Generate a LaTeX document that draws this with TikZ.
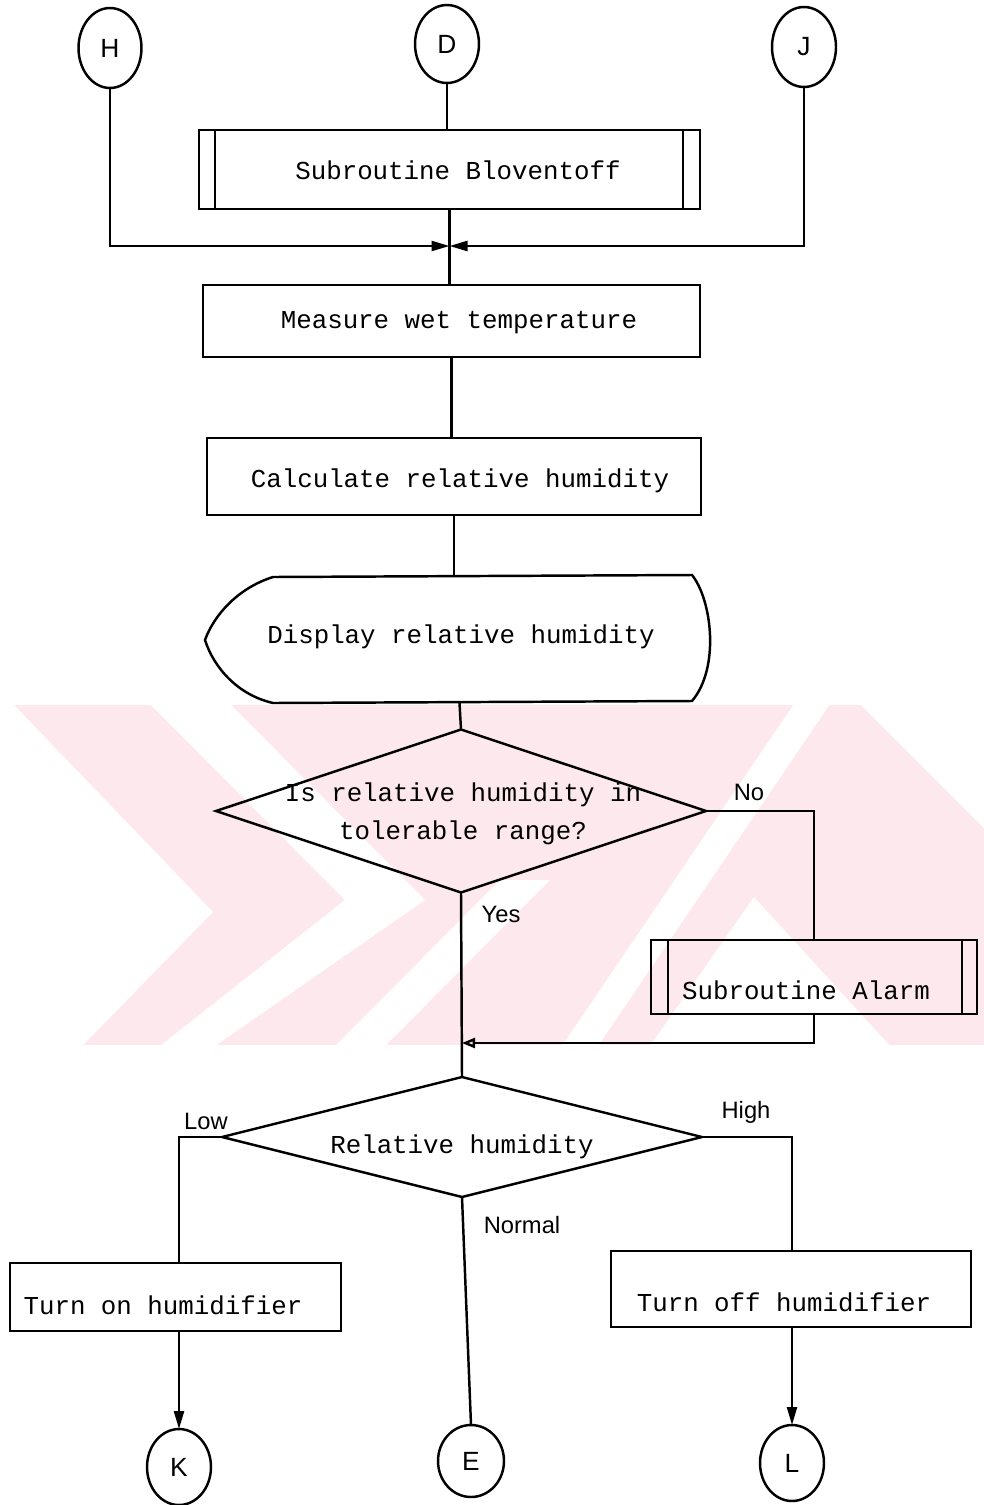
\documentclass[tikz,border=0pt]{standalone}
\usepackage{fontspec}
\setmainfont{Liberation Sans}
\newfontfamily\dotmono{Liberation Mono}
\usetikzlibrary{shapes.geometric,arrows.meta,calc}

\definecolor{wmpink}{RGB}{253,233,237}

\begin{document}
\begin{tikzpicture}[x=0.02cm,y=-0.02cm,
  line width=1.4pt,
  every node/.style={inner sep=0pt, outer sep=0pt},
  conn/.style={ellipse, draw, font=\fontsize{15}{15}\selectfont},
  procbox/.style={rectangle, draw},
  boxtext/.style={font=\dotmono\fontsize{14.7}{21.5}\selectfont, align=center},
  lbl/.style={font=\fontsize{13.5}{14}\selectfont},
  arr/.style={-{Triangle[length=0.36cm,width=0.2cm]}},
  openarr/.style={-{Triangle[open,length=0.26cm,width=0.2cm]}},
]
\useasboundingbox (0,0) rectangle (984,1505);

% faint background stamp: pink band with white stripes cut into it
\fill[wmpink] (13,705) rectangle (984,1045);
\begin{scope}[white]
  \fill (0,704) -- (13,704) -- (213,912) -- (82,1046) -- (0,1046) -- cycle;
  \fill (150,704) -- (230,704) -- (425,900) -- (215,1046) -- (160,1046) -- (345,900) -- cycle;
  \fill (335,1046) -- (385,1046) -- (550,880) -- (500,880) -- cycle;
  \fill (562,1046) -- (598,1046) -- (830,704) -- (794,704) -- cycle;
  \fill (860,704) -- (985,704) -- (985,829) -- cycle;
  \fill (754,897) -- (890,1046) -- (650,1046) -- cycle;
\end{scope}

% entry connectors
\node[conn, minimum width=1.26cm, minimum height=1.6cm] (H) at (110,48) {H};
\node[conn, minimum width=1.28cm, minimum height=1.56cm] (D) at (447,44) {D};
\node[conn, minimum width=1.28cm, minimum height=1.6cm] (J) at (804,47) {J};

% subroutine Bloventoff
\node[procbox, minimum width=10.02cm, minimum height=1.58cm] (blov) at (449.5,169.5) {};
\draw ([xshift=0.32cm]blov.north west) -- ([xshift=0.32cm]blov.south west);
\draw ([xshift=-0.34cm]blov.north east) -- ([xshift=-0.34cm]blov.south east);
\node[boxtext] (blovtext) at (458,170) {Subroutine Bloventoff};

\coordinate (jn) at (449.5,246);

% processing steps
\node[procbox, minimum width=9.94cm, minimum height=1.44cm] (meas) at (451.5,321) {};
\node[boxtext] (meastext) at (459,323) {Measure wet temperature};

\node[procbox, minimum width=9.88cm, minimum height=1.54cm] (calc) at (454,476.5) {};
\node[boxtext] (calctext) at (460,481) {Calculate relative humidity};

% display symbol
\node[minimum width=10.18cm, minimum height=2.56cm] (disp) at (459.5,639) {};
\draw (273,577) -- (692,575)
  .. controls (712,600) and (720,668) .. (692,701)
  -- (273,703)
  .. controls (238,695) and (214,668) .. (205,640)
  .. controls (214,615) and (238,588) .. (273,577) -- cycle;
\node[boxtext] (disptext) at (461,637) {Display relative humidity};

% tolerance decision
\node[draw, diamond, minimum width=9.8cm, minimum height=3.26cm] (dec1) at (461,811) {};
\node[boxtext] (dec1text) at (463,814) {Is relative humidity in\\tolerable range?};

% alarm subroutine
\node[procbox, minimum width=6.52cm, minimum height=1.48cm] (alarm) at (814,977) {};
\draw ([xshift=0.34cm]alarm.north west) -- ([xshift=0.34cm]alarm.south west);
\draw ([xshift=-0.3cm]alarm.north east) -- ([xshift=-0.3cm]alarm.south east);
\node[boxtext] (alarmtext) at (806,990) {Subroutine Alarm};

\coordinate (mg) at (462,1043);

% humidity level decision
\node[draw, diamond, minimum width=9.6cm, minimum height=2.4cm] (dec2) at (462,1137) {};
\node[boxtext] (dec2text) at (462,1147) {Relative humidity};

% actions
\node[procbox, minimum width=6.62cm, minimum height=1.36cm] (ton) at (175.5,1297) {};
\node[boxtext] (tontext) at (163,1305) {Turn on humidifier};
\node[procbox, minimum width=7.2cm, minimum height=1.52cm] (toff) at (791,1289) {};
\node[boxtext] (tofftext) at (784,1302) {Turn off humidifier};

% exit connectors
\node[conn, minimum width=1.28cm, minimum height=1.52cm] (K) at (179,1467) {K};
\node[conn, minimum width=1.32cm, minimum height=1.44cm] (E) at (471,1461) {E};
\node[conn, minimum width=1.28cm, minimum height=1.52cm] (L) at (792,1463) {L};

% flow lines
\draw (D.south) -- (D.south |- blov.north);
\draw (blov.south) -- (blov.south |- meas.north);
\draw[arr] (H.south) |- (jn);
\draw[arr] (J.south) |- (jn);
\draw (meas.south) -- (meas.south |- calc.north);
\draw (calc.south) -- (calc.south |- disp.north);
\draw (disp.south) -- (dec1.north);
\draw (dec1.east) -| (alarm.north);
\draw[openarr] (alarm.south) |- (mg);
\draw (dec1.south) -- (dec2.north);
\draw (dec2.west) -| (K.north |- ton.north);
\draw (dec2.east) -| (L.north |- toff.north);
\draw (dec2.south) -- (E.north);
\draw[arr] (K.north |- ton.south) -- (K.north);
\draw[arr] (L.north |- toff.south) -- (L.north);

% branch labels
\node[lbl] (lno) at (749,792) {No};
\node[lbl] (lyes) at (501,914) {Yes};
\node[lbl] (llow) at (206,1121) {Low};
\node[lbl] (lhigh) at (746,1112) {High};
\node[lbl] (lnormal) at (522,1225) {Normal};
\end{tikzpicture}
\end{document}
